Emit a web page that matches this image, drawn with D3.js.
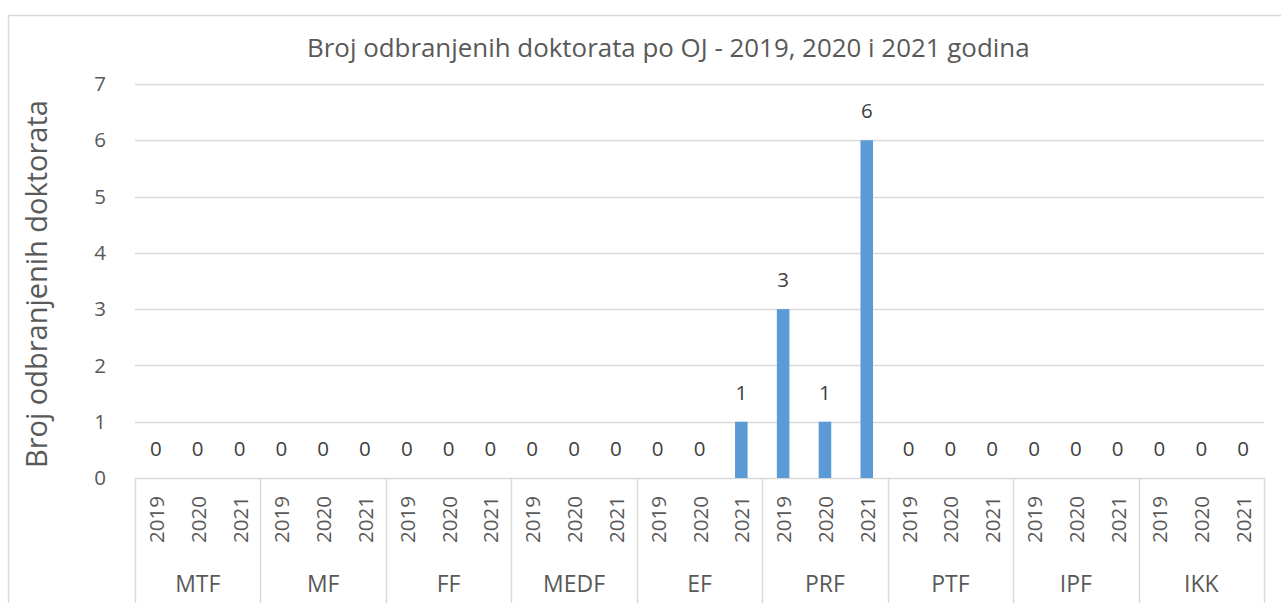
<!DOCTYPE html>
<html><head><meta charset="utf-8">
<script src="https://cdn.jsdelivr.net/npm/d3@7"></script>
<style>body{margin:0;background:#fff;}svg{display:block;font-family:"Open Sans",sans-serif;}</style>
</head><body><svg id="c" width="1281" height="603"></svg>
<script>
const groups = ["MTF","MF","FF","MEDF","EF","PRF","PTF","IPF","IKK"];
const years = ["2019","2020","2021"];
const values = [
  [0,0,0],[0,0,0],[0,0,0],[0,0,0],[0,0,1],[3,1,6],[0,0,0],[0,0,0],[0,0,0]
];
const yTicks = [0,1,2,3,4,5,6,7];
const title = "Broj odbranjenih doktorata po OJ - 2019, 2020 i 2021 godina";
const yTitle = "Broj odbranjenih doktorata";

const svg = d3.select("#c");
const L = 135, R = 1264, T = 84, B = 478;
const grid = "#d9d9d9", txt = "#595959";

// font size fitting to a target text length
function fit(str, target){
  const t = svg.append("text").attr("font-size",100).text(str);
  const w = t.node().getComputedTextLength();
  t.remove();
  return 100*target/w;
}
const fsTitle = fit(title, 723);
const fsYTitle = fit(yTitle, 368);
const fsYear = fit("2019", 47);
const fsGroup = fit("MEDF", 62);
const fsNum = fsYear;

// outer border
svg.append("path").attr("d","M8.5,603 V15.5 H1281").attr("fill","none").attr("stroke",grid).attr("stroke-width",1.5);

const data = [];
groups.forEach((g,gi)=>years.forEach((yr,yi)=>data.push({g,yr,key:g+"|"+yr,v:values[gi][yi]})));

const x = d3.scaleBand().domain(data.map(d=>d.key)).range([L,R]).paddingInner(0.7).paddingOuter(0.35);
const xg = d3.scaleBand().domain(groups).range([L,R]);
const y = d3.scaleLinear().domain([0,7]).range([B,T]);

// gridlines
svg.append("g").selectAll("line").data(yTicks).join("line")
  .attr("x1",L).attr("x2",R).attr("y1",d=>Math.round(y(d))+0.5).attr("y2",d=>Math.round(y(d))+0.5)
  .attr("stroke",grid).attr("stroke-width",1.5);

// y tick labels
svg.append("g").selectAll("text").data(yTicks).join("text")
  .attr("x",106).attr("y",d=>y(d)).attr("dy","0.35em").attr("text-anchor","end")
  .attr("fill",txt).attr("font-size",fsNum).text(d=>d);

// group separators
svg.append("g").selectAll("line").data(groups.concat(["__end"])).join("line")
  .attr("x1",(d,i)=>Math.round(i<groups.length?xg(d):R)+0.5).attr("x2",(d,i)=>Math.round(i<groups.length?xg(d):R)+0.5)
  .attr("y1",B).attr("y2",603).attr("stroke",grid).attr("stroke-width",1.5);

// bars
svg.append("g").selectAll("rect").data(data.filter(d=>d.v>0)).join("rect")
  .attr("x",d=>x(d.key)).attr("width",x.bandwidth())
  .attr("y",d=>y(d.v)).attr("height",d=>B-y(d.v)).attr("fill","#5b9bd5");

// data labels
svg.append("g").selectAll("text").data(data).join("text")
  .attr("x",d=>x(d.key)+x.bandwidth()/2).attr("y",d=>y(d.v)-22)
  .attr("text-anchor","middle").attr("fill","#404040").attr("font-size",fsNum).text(d=>d.v);

// year labels (rotated)
svg.append("g").selectAll("text").data(data).join("text")
  .attr("transform",d=>`translate(${x(d.key)+x.bandwidth()/2+8},543) rotate(-90)`)
  .attr("fill",txt).attr("font-size",fsYear).text(d=>d.yr);

// group labels
svg.append("g").selectAll("text").data(groups).join("text")
  .attr("x",d=>xg(d)+xg.bandwidth()/2).attr("y",592).attr("text-anchor","middle")
  .attr("fill",txt).attr("font-size",fsGroup).text(d=>d);

// title
svg.append("text").attr("x",307).attr("y",57)
  .attr("fill",txt).attr("font-size",fsTitle).text(title);

// y axis title
svg.append("text").attr("transform","translate(47,468) rotate(-90)")
  .attr("fill",txt).attr("font-size",fsYTitle).text(yTitle);
</script></body></html>
